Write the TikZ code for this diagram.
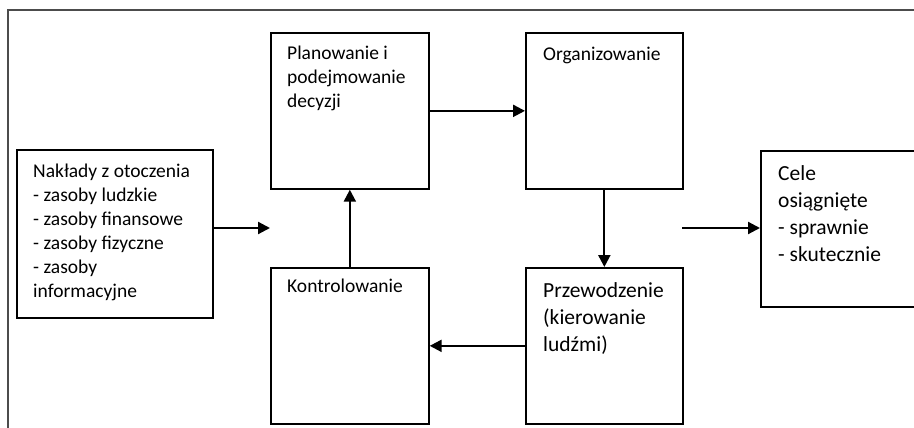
\documentclass[tikz,border=0pt]{standalone}
\usepackage{fontspec}
\setmainfont{Carlito}
\usetikzlibrary{arrows.meta,positioning}

\begin{document}
\begin{tikzpicture}[x=1pt,y=-1pt,
  box/.style={draw,line width=1.7pt,anchor=north west,inner sep=0pt},
  txt/.style={align=left,inner sep=0pt,font=\fontsize{19.5}{24}\selectfont},
  bigtxt/.style={txt,font=\fontsize{21.5}{27}\selectfont},
  arr/.style={-{Triangle[length=12pt,width=12pt]},line width=2.2pt}]
  \useasboundingbox (0,0) rectangle (914,428);
  % frame (only top and left edge visible)
  \draw[line width=1.7pt,black!70] (8,440) -- (8,10) -- (930,10);
  % boxes
  \node[box,minimum width=196,minimum height=168] (In) at (16,149) {};
  \node[box,minimum width=158,minimum height=156] (Plan) at (270,32) {};
  \node[box,minimum width=157,minimum height=156] (Org) at (525,32) {};
  \node[box,minimum width=158,minimum height=156] (Ctrl) at (270,267) {};
  \node[box,minimum width=157,minimum height=156] (Lead) at (525,267) {};
  \node[box,minimum width=170,minimum height=156] (Goal) at (760,150) {};
  % texts
  \node[txt,below right=15pt and 17pt of In.north west] (In-t)
    {Nakłady z otoczenia\\- zasoby ludzkie\\- zasoby finansowe\\- zasoby fizyczne\\- zasoby\\informacyjne};
  \node[txt,below right=14pt and 17pt of Plan.north west] (Plan-t)
    {Planowanie i\\podejmowanie\\decyzji};
  \node[txt,below right=15pt and 18pt of Org.north west] (Org-t) {Organizowanie};
  \node[txt,below right=12pt and 17pt of Ctrl.north west] (Ctrl-t) {Kontrolowanie};
  \node[bigtxt,below right=15pt and 18pt of Lead.north west] (Lead-t)
    {Przewodzenie\\(kierowanie\\ludźmi)};
  \node[bigtxt,below right=15pt and 18pt of Goal.north west] (Goal-t)
    {Cele\\osiągnięte\\- sprawnie\\- skutecznie};
  % connectors
  \coordinate (inEnd) at (270,228);
  \coordinate (outStart) at (682,228);
  \draw[arr] (In.east |- inEnd) -- (inEnd);
  \draw[arr] (Plan.east) -- (Org.west);
  \draw[arr] (Org.south) -- (Lead.north);
  \draw[arr] (Lead.west) -- (Ctrl.east);
  \draw[arr] (Ctrl.north) -- (Plan.south);
  \draw[arr] (outStart) -- (Goal.west |- outStart);
\end{tikzpicture}
\end{document}
